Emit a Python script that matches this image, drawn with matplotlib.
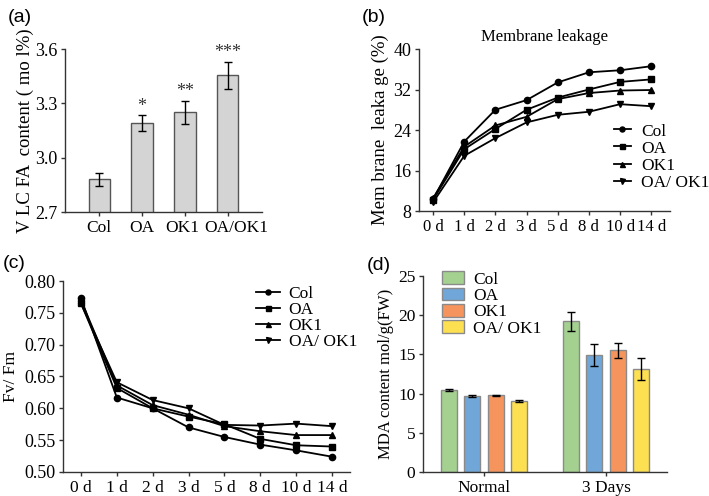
import matplotlib
matplotlib.use("Agg")
import matplotlib.pyplot as plt
from matplotlib.transforms import ScaledTranslation
import numpy as np

plt.rcParams['font.family'] = ['Liberation Serif', 'DejaVu Serif']

# ---- data ----
genotypes = ["Col", "OA", "OK1", "OA/OK1"]
legend_labels = ["Col", "OA", "OK1", "OA/ OK1"]

# (a) VLCFA content
vlcfa = [2.88, 3.19, 3.25, 3.455]
vlcfa_err = [0.035, 0.043, 0.063, 0.075]
vlcfa_sig = ["", "*", "**", "***"]

# (b) Membrane leakage
days = ["0 d", "1 d", "2 d", "3 d", "5 d", "8 d", "10 d", "14 d"]
leak_col = [10.3, 21.7, 28.0, 29.9, 33.4, 35.4, 35.8, 36.6]
leak_oa = [10.2, 20.2, 24.2, 28.0, 30.4, 32.0, 33.5, 34.0]
leak_ok1 = [10.5, 20.7, 24.9, 26.6, 30.1, 31.3, 31.8, 31.9]
leak_oaok1 = [9.7, 18.9, 22.4, 25.5, 27.0, 27.6, 29.1, 28.7]

# (c) Fv/Fm
fvfm_col = [0.773, 0.617, 0.600, 0.570, 0.555, 0.543, 0.534, 0.524]
fvfm_oa = [0.765, 0.632, 0.600, 0.587, 0.575, 0.552, 0.542, 0.540]
fvfm_ok1 = [0.770, 0.636, 0.605, 0.590, 0.572, 0.564, 0.558, 0.558]
fvfm_oaok1 = [0.765, 0.641, 0.613, 0.600, 0.574, 0.573, 0.576, 0.572]

# (d) MDA content
conditions = ["Normal", "3 Days"]
mda_col = [10.5, 19.2]
mda_oa = [9.7, 14.9]
mda_ok1 = [9.8, 15.5]
mda_oaok1 = [9.05, 13.1]
mda_col_err = [0.12, 1.2]
mda_oa_err = [0.08, 1.4]
mda_ok1_err = [0.08, 1.0]
mda_oaok1_err = [0.07, 1.4]

W, H = 709, 496
fig = plt.figure(figsize=(W / 100, H / 100), dpi=100)


def rect(x0, x1, y0, y1):
    return [x0 / W, 1 - y1 / H, (x1 - x0) / W, (y1 - y0) / H]


def style(ax):
    for s in ["top", "right"]:
        ax.spines[s].set_visible(False)
    for s in ["left", "bottom"]:
        ax.spines[s].set_linewidth(1.0)
        ax.spines[s].set_color("#333333")
    ax.tick_params(direction="out", length=3, width=1, color="#333333", pad=2.5)


# ---------- (a) ----------
axa = fig.add_axes(rect(65, 262, 49, 212))
xa = np.arange(len(genotypes))
axa.bar(xa, vlcfa, width=0.5, color="#d4d4d4", edgecolor="#555555", linewidth=1.0,
        yerr=vlcfa_err, error_kw=dict(ecolor="black", elinewidth=1.0, capsize=3, capthick=1.0))
for xi, v, e, s in zip(xa, vlcfa, vlcfa_err, vlcfa_sig):
    if s:
        axa.text(xi, v + e + 0.005, s, ha="center", va="bottom", fontsize=13, color="#333333")
axa.set_ylim(2.7, 3.6)
axa.set_xlim(-0.8, 3.8)
axa.set_yticks([2.7, 3.0, 3.3, 3.6])
axa.set_yticklabels(["2.7", "3.0", "3.3", "3.6"], fontsize=13)
axa.set_xticks(xa)
axa.set_xticklabels(genotypes, fontsize=12.5)
axa.set_ylabel("V LC FA  content ( mo l%)", fontsize=13.5, labelpad=1)
style(axa)
shifts = [0, 0, -3, 9]
for lbl, sh in zip(axa.get_xticklabels(), shifts):
    lbl.set_transform(lbl.get_transform() + ScaledTranslation(sh / 100, 0, fig.dpi_scale_trans))

# ---------- (b) ----------
axb = fig.add_axes(rect(419, 670, 49, 211))
xb = np.arange(len(days))
series_b = [leak_col, leak_oa, leak_ok1, leak_oaok1]
markers = ["o", "s", "^", "v"]
for ys, m, lab in zip(series_b, markers, legend_labels):
    axb.plot(xb, ys, color="black", marker=m, markersize=4.5, linewidth=1.3, label=lab)
axb.set_ylim(8, 40)
axb.set_xlim(-0.45, 7.6)
axb.set_yticks([8, 16, 24, 32, 40])
axb.set_yticklabels(["8", "16", "24", "32", "40"], fontsize=13)
axb.set_xticks(xb)
axb.set_xticklabels(days, fontsize=12)
axb.set_ylabel("Mem brane  leaka ge (%)", fontsize=13.5, labelpad=3)
axb.set_title("Membrane leakage", fontsize=12, pad=6)
style(axb)
axb.legend(loc="center left", bbox_to_anchor=(605 / W, 1 - 157 / H), bbox_transform=fig.transFigure,
           frameon=False, fontsize=12.5, handlelength=1.0, handletextpad=0.6,
           labelspacing=0.05, borderpad=0.0, markerscale=0.8)

# ---------- (c) ----------
axc = fig.add_axes(rect(63, 350, 281, 472))
series_c = [fvfm_col, fvfm_oa, fvfm_ok1, fvfm_oaok1]
for ys, m, lab in zip(series_c, markers, legend_labels):
    axc.plot(xb, ys, color="black", marker=m, markersize=4.5, linewidth=1.3, label=lab)
axc.set_ylim(0.50, 0.80)
axc.set_xlim(-0.5, 7.5)
yt = [0.50, 0.55, 0.60, 0.65, 0.70, 0.75, 0.80]
axc.set_yticks(yt)
axc.set_yticklabels(["%.2f" % v for v in yt], fontsize=13)
axc.set_xticks(xb)
axc.set_xticklabels(days, fontsize=12.5)
axc.set_ylabel("Fv/ Fm", fontsize=12.5, labelpad=4)
style(axc)
axc.legend(loc="center left", bbox_to_anchor=(247 / W, 1 - 318 / H), bbox_transform=fig.transFigure,
           frameon=False, fontsize=12.5, handlelength=1.4, handletextpad=0.5,
           labelspacing=0.0, borderpad=0.0, markerscale=0.8)

# ---------- (d) ----------
axd = fig.add_axes(rect(423, 667, 276, 472))
xd = np.arange(len(conditions))
series_d = [mda_col, mda_oa, mda_ok1, mda_oaok1]
errs_d = [mda_col_err, mda_oa_err, mda_ok1_err, mda_oaok1_err]
colors_d = ["#a4d190", "#71a7d8", "#f5955d", "#fddf52"]
bw = 0.13
step = 0.19
for i, (ys, es, c, lab) in enumerate(zip(series_d, errs_d, colors_d, legend_labels)):
    axd.bar(xd + (i - 1.5) * step, ys, width=bw, color=c, edgecolor="#8a8a8a", linewidth=1.0,
            yerr=es, error_kw=dict(ecolor="black", elinewidth=1.0, capsize=3, capthick=1.0),
            label=lab)
axd.set_ylim(0, 25)
axd.set_xlim(-0.5, 1.5)
axd.set_yticks([0, 5, 10, 15, 20, 25])
axd.set_yticklabels(["0", "5", "10", "15", "20", "25"], fontsize=12.5)
axd.set_xticks(xd)
axd.set_xticklabels(conditions, fontsize=12.5)
axd.set_ylabel("MDA content mol/g(FW)", fontsize=12, labelpad=3)
style(axd)
axd.legend(loc="center left", bbox_to_anchor=(433 / W, 1 - 304 / H), bbox_transform=fig.transFigure,
           frameon=False, fontsize=12.5, handlelength=1.3, handleheight=0.75, handletextpad=0.5,
           labelspacing=0.0, borderpad=0.0)

# ---------- panel labels ----------
for lab, x, y in [("(a)", 8, 17), ("(b)", 362, 17), ("(c)", 3, 264), ("(d)", 367, 266)]:
    fig.text(x / W, 1 - y / H, lab, fontsize=14, family=["Liberation Sans", "DejaVu Sans"],
             ha="left", va="center")

fig.savefig("out.png", dpi=100)
